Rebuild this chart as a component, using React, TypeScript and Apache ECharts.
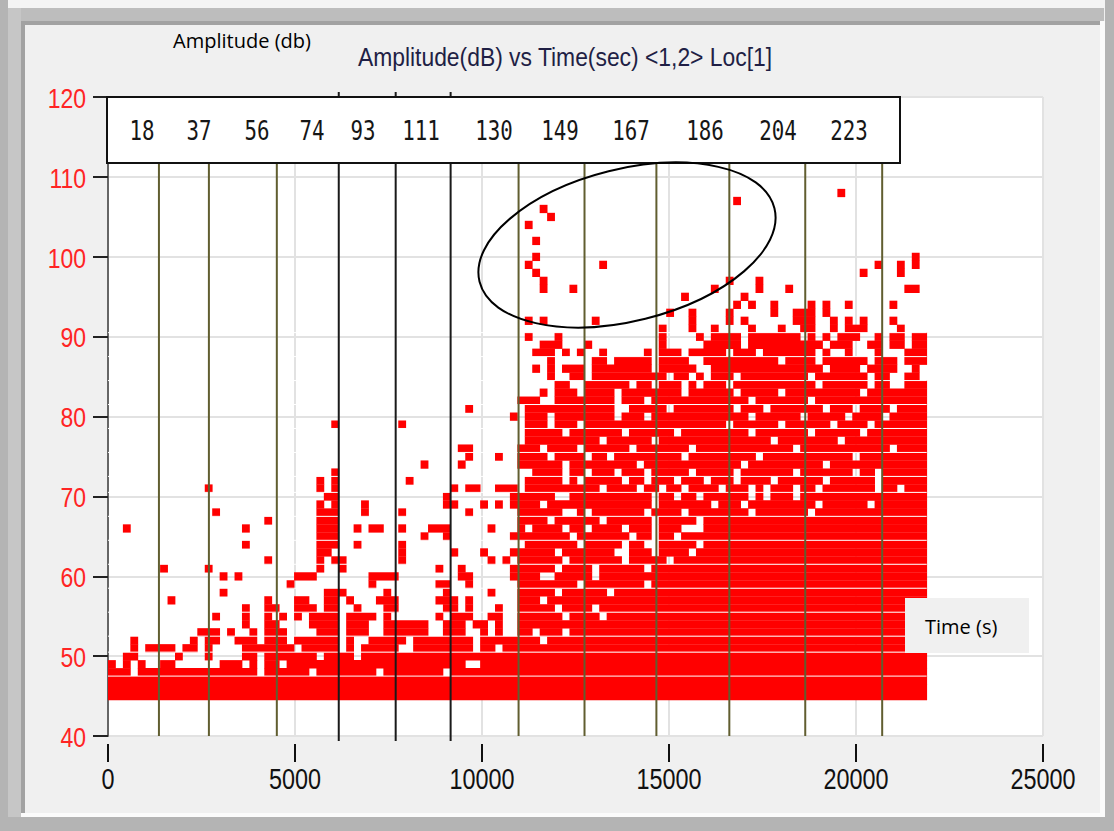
import { useEffect, useRef } from "react";
import * as echarts from "echarts";

// ---------- data ----------
const TITLE = "Amplitude(dB) vs Time(sec) <1,2> Loc[1]";
const Y_NOTE = "Amplitude (db)";
const X_NOTE = "Time (s)";

const X_MIN = 0;
const X_MAX = 25000;
const X_STEP = 5000;
const Y_MIN = 40;
const Y_MAX = 120;
const Y_STEP = 10;
const X_TICKS = [0, 5000, 10000, 15000, 20000, 25000];
const Y_TICKS = [40, 50, 60, 70, 80, 90, 100, 110, 120];

// width of one time cell (seconds) of the hit map
const BIN_SECONDS = 199;
const BIN_COUNT = 110;

// amplitude row (dB) -> occupied time cells (index ranges)
const AMPLITUDE_ROWS: [number, string][] = [
  [108, "98"],
  [107, "84"],
  [106, "58"],
  [105, "59"],
  [104, "56"],
  [102, "57"],
  [100, "57,108"],
  [99, "56,66,103,106,108"],
  [98, "57,101,106"],
  [97, "58,83,87"],
  [96, "58,62,81,87,91,107-108"],
  [95, "77,85"],
  [94, "84,86,89,94,96,99,105"],
  [93, "75,78,83,89,92-94,96"],
  [92, "56,58,65,78,83,85,92-94,97,99,101,105"],
  [91, "74,78,81,86,90,93-94,97,99-101,106"],
  [90, "56,60,74,79,81-84,86-92,94,96,98-100,103,105-106,108-109"],
  [89, "58-60,64,74,80-84,86-95,97-99,102-103,105-106,108-109"],
  [88, "57-59,61,63,66,72,74-76,78-82,84-86,88-94,96,99,103,107-109"],
  [87, "59,65-66,68-72,74-77,80-89,91-94,96-101,103-105,107-109"],
  [86, "57,59,61-63,65-72,74-78,81-95,97-100,102-105,108"],
  [85, "59,62-63,65-74,76-77,79,81-83,85-93,95-101,103-104,107-108"],
  [84, "60-61,64-69,71-72,74-76,78,80-82,84-94,96-101,103-104,107-109"],
  [83, "58,60-62,64-67,69-76,78-83,85-89,91-100,102-109"],
  [82, "55-57,60-67,69-71,73-85,87-93,95-109"],
  [81, "48,56-67,70-74,76-83,85-87,89-95,97-99,101-104,106-109"],
  [80, "54,56-58,60-67,69-71,73-85,87-92,94-98,100-103,105-109"],
  [79, "30,39,56-58,60-62,64-82,84-89,91-96,98-101,103-109"],
  [78, "56-60,62-68,70-75,77-85,87-93,95-100,102-109"],
  [77, "56-65,67-72,74-88,90-97,99-109"],
  [76, "47-48,55-57,59-62,64-69,71-77,79-91,93-104,106-109"],
  [75, "48,52,55-58,60-63,65-66,68-76,78-86,88-99,101-109"],
  [74, "42,47,55-60,62-70,72-84,86-95,97-109"],
  [73, "30,57-60,62-63,65-67,69-71,73-77,79-83,85-91,93-99,101-102,104-109"],
  [72, "28,30,40,56-60,62,64-68,70-71,73-75,77-79,81-83,85-88,90-95,97-102,104-109"],
  [71, "13,28,30,46,48-49,52-54,56-65,67-70,72-73,75-76,78-81,83-85,87,89-91,93-94,96-102,104-105,107-109"],
  [70, "29-30,45,54-59,62-72,74-75,77-78,80-85,87,89-91,93-109"],
  [69, "28,30,34,45-46,50,52,54-57,59-72,74-80,82-84,86-94,96-101,103-109"],
  [68, "14,28-30,34,39,48,55-60,63,65-71,73-76,78-85,87-93,95-109"],
  [67, "21,28-30,55-58,60-65,67-72,74-78,80-109"],
  [66, "2,18,28-30,33,35-36,39,43-45,51,55,57-60,62-63,65-68,70-72,74-76,80-109"],
  [65, "28-30,42,45,54-61,63-69,71-72,74-75,77-109"],
  [64, "18,28-30,33,39,56-62,64-68,70-71,74-78,80-109"],
  [63, "28-29,39,46,50,54-59,61-67,70-72,74-77,79-109"],
  [62, "21,28,30-31,39,51,53,55-60,62-68,70-74,76-109"],
  [61, "7,13,28,31,44,47,54-59,61-64,66-71,73-109"],
  [60, "15,17,25-27,35-38,47-48,54-57,60-64,66-109"],
  [59, "24,35,44-45,48,55-62,64-71,73-109"],
  [58, "15,29-31,37,45,51,55-59,61-66,68-109"],
  [57, "8,21,25-26,29-30,32,36-38,44-46,48,55-57,59-109"],
  [56, "18,21-22,25-27,29-30,33,37-38,45-46,48,52,55-59,61-64,66-109"],
  [55, "14,18,21,23,25,27-30,32-35,37,44,46-48,51-52,55-60,62-65,67-109"],
  [54, "18,21-22,27-30,32-34,37-42,45-47,49-50,52,55-109"],
  [53, "12-14,16,19,21-23,28-30,32-34,37-42,45-47,50,52,55-56,58-60,62-109"],
  [52, "3,11,13-14,17-19,21-23,25-30,32,35-39,41-48,50-57,59-109"],
  [51, "3,5-8,10-11,13,18-24,26-30,32,34-38,41-48,50-51,53-109"],
  [50, "2-3,9,13,18-19,21-27,29-32,34-109"],
  [49, "0,2,4,7-8,15-17,19,21-22,24-47,50-109"],
  [48, "0-2,4-19,21-26,28-35,37-44,46-109"],
  [47, "0-109"],
  [46, "0-109"],
  [45, "0-109"],
];

// white banding lines between amplitude rows
const SEPARATOR_LEVELS = [47.5, 50.5, 52.5, 55.5, 58.5, 61.5, 64.5, 67.5, 70.5, 72.5, 75.5, 78.5, 81.5, 84.5, 87.5, 90.5];

// vertical markers (time, s) and their labels
const MARKER_TIMES = [1362, 2698, 4514, 6170, 7692, 9161, 10978, 12741, 14663, 16613, 18643, 20700];
const MARKER_DARK = [false, false, false, true, true, true, false, false, false, false, false, false];
const MARKER_LABELS = ["18", "37", "56", "74", "93", "111", "130", "149", "167", "186", "204", "223"];

// ---------- layout ----------
const LABEL_X = [142, 199, 257, 312, 363, 421, 494, 560, 631, 705, 778, 849];
const SANS = "'Liberation Sans', Arial, sans-serif";

function buildSpans(): number[][] {
  const spans: number[][] = [];
  for (const [db, cols] of AMPLITUDE_ROWS) {
    for (const part of cols.split(",")) {
      const bits = part.split("-");
      const a = Number(bits[0]);
      const b = bits.length > 1 ? Number(bits[1]) : a;
      spans.push([a * BIN_SECONDS, (b + 1) * BIN_SECONDS, db]);
    }
  }
  return spans;
}

export default function App() {
  const ref = useRef<HTMLDivElement>(null);

  useEffect(() => {
    document.body.style.margin = "0";
    if (!ref.current) return;
    const chart = echarts.init(ref.current, undefined, { renderer: "svg" });
    const spans = buildSpans();
    const dataEnd = BIN_COUNT * BIN_SECONDS;

    chart.setOption({
      animation: false,
      backgroundColor: "#f0f0f0",
      grid: {
        left: 108,
        top: 97,
        width: 935,
        height: 639,
        show: true,
        backgroundColor: "#ffffff",
        borderWidth: 0,
      },
      xAxis: {
        type: "value",
        min: X_MIN,
        max: X_MAX,
        interval: X_STEP,
        offset: 8,
        axisLine: { show: false },
        axisTick: { show: true, length: 18, lineStyle: { color: "#111", width: 2 } },
        axisLabel: { show: false },
        splitLine: { show: true, lineStyle: { color: "#e2e2e2", width: 2 } },
      },
      yAxis: {
        type: "value",
        min: Y_MIN,
        max: Y_MAX,
        interval: Y_STEP,
        axisLine: { show: true, lineStyle: { color: "#666", width: 2 } },
        axisTick: { show: true, length: 15, lineStyle: { color: "#222", width: 2 } },
        axisLabel: { show: false },
        splitLine: { show: true, lineStyle: { color: "#e2e2e2", width: 2 } },
      },
      series: [
        {
          type: "custom",
          name: "hits",
          z: 2,
          encode: { x: [0, 1], y: 2 },
          data: spans,
          renderItem: (_p: any, api: any) => {
            const a = api.coord([api.value(0), api.value(2) + 0.5]);
            const b = api.coord([api.value(1), api.value(2) - 0.5]);
            return {
              type: "rect",
              shape: { x: a[0], y: a[1], width: b[0] - a[0] + 0.4, height: b[1] - a[1] + 0.3 },
              style: { fill: "#ff0000" },
            };
          },
        },
        {
          type: "custom",
          name: "bands",
          z: 3,
          silent: true,
          encode: { x: [0, 1], y: 2 },
          data: SEPARATOR_LEVELS.map((l) => [0, dataEnd, l]),
          renderItem: (_p: any, api: any) => {
            const a = api.coord([api.value(0), api.value(2)]);
            const b = api.coord([api.value(1), api.value(2)]);
            return {
              type: "line",
              shape: { x1: a[0], y1: a[1], x2: b[0], y2: b[1] },
              style: { stroke: "#ffffff", lineWidth: 1 },
            };
          },
        },
        {
          type: "custom",
          name: "markers",
          z: 4,
          silent: true,
          encode: { x: 0, y: [1, 2] },
          data: MARKER_TIMES.map((t, i) => [t, Y_MIN, Y_MAX, MARKER_DARK[i] ? 1 : 0]),
          renderItem: (_p: any, api: any) => {
            const dark = api.value(3) === 1;
            const top = api.coord([api.value(0), api.value(2)]);
            const bot = api.coord([api.value(0), api.value(1)]);
            const ext = dark ? 5 : 0;
            return {
              type: "line",
              shape: { x1: top[0], y1: top[1] - ext, x2: bot[0], y2: bot[1] + ext },
              style: { stroke: dark ? "#1a1a1a" : "#615e30", lineWidth: 2 },
            };
          },
        },
      ],
    });

    // tick labels placed through the library's own scales
    const xLabels = X_TICKS.map((v) => {
      const p = chart.convertToPixel({ gridIndex: 0 }, [v, Y_MIN]) as number[];
      return {
        type: "text",
        x: p[0],
        y: 779,
        scaleX: 0.78,
        style: {
          text: String(v),
          fontSize: 30,
          fontFamily: SANS,
          fill: "#111",
          textAlign: "center",
          textVerticalAlign: "middle",
        },
      };
    });
    const yLabels = Y_TICKS.map((v) => {
      const p = chart.convertToPixel({ gridIndex: 0 }, [X_MIN, v]) as number[];
      return {
        type: "text",
        x: 86,
        y: p[1] + 1,
        scaleX: 0.82,
        style: {
          text: String(v),
          fontSize: 28,
          fontFamily: SANS,
          fill: "#ff2424",
          textAlign: "right",
          textVerticalAlign: "middle",
        },
      };
    });

    const frame: any[] = [
      { type: "rect", shape: { x: 0, y: 0, width: 1114, height: 8 }, style: { fill: "#f4f4f4" }, silent: true },
      { type: "rect", shape: { x: 0, y: 0, width: 8, height: 831 }, style: { fill: "#b4b4b4" }, silent: true },
      { type: "rect", shape: { x: 8, y: 8, width: 1096, height: 13 }, style: { fill: "#bdbdbd" }, silent: true },
      { type: "rect", shape: { x: 8, y: 8, width: 13, height: 809 }, style: { fill: "#c6c6c6" }, silent: true },
      { type: "rect", shape: { x: 21, y: 21, width: 1080, height: 4 }, style: { fill: "#a2a2a2" }, silent: true },
      { type: "rect", shape: { x: 21, y: 21, width: 4, height: 792 }, style: { fill: "#a2a2a2" }, silent: true },
      { type: "rect", shape: { x: 1100, y: 21, width: 5, height: 796 }, style: { fill: "#fbfbfb" }, silent: true },
      { type: "rect", shape: { x: 21, y: 813, width: 1084, height: 4 }, style: { fill: "#fbfbfb" }, silent: true },
      { type: "rect", shape: { x: 1105, y: 0, width: 9, height: 831 }, style: { fill: "#b4b4b4" }, silent: true },
      { type: "rect", shape: { x: 0, y: 817, width: 1114, height: 14 }, style: { fill: "#b4b4b4" }, silent: true },
    ];

    const labelTexts = MARKER_LABELS.map((t, i) => ({
      type: "text",
      z: 21,
      x: LABEL_X[i],
      y: 131,
      scaleX: 0.8,
      style: {
        text: t,
        fontSize: 26,
        fontFamily: "'DejaVu Sans Mono', monospace",
        fill: "#161616",
        textAlign: "center",
        textVerticalAlign: "middle",
      },
    }));

    chart.setOption({
      graphic: {
        elements: [
          ...frame,
          ...xLabels,
          ...yLabels,
          {
            type: "text",
            x: 565,
            y: 57,
            scaleX: 0.88,
            style: {
              text: TITLE,
              fontSize: 26,
              fontFamily: SANS,
              fill: "#1f1f45",
              textAlign: "center",
              textVerticalAlign: "middle",
            },
          },
          {
            type: "text",
            x: 242,
            y: 40,
            style: {
              text: Y_NOTE,
              fontSize: 20,
              fontFamily: "'Open Sans', sans-serif",
              fill: "#000",
              textAlign: "center",
              textVerticalAlign: "middle",
            },
          },
          {
            type: "rect",
            z: 20,
            shape: { x: 107, y: 97, width: 793, height: 66 },
            style: { fill: "#ffffff", stroke: "#111", lineWidth: 2 },
          },
          ...labelTexts,
          {
            type: "ellipse",
            z: 20,
            x: 627,
            y: 245,
            rotation: (14 * Math.PI) / 180,
            shape: { cx: 0, cy: 0, rx: 152, ry: 76 },
            style: { fill: "none", stroke: "#000", lineWidth: 2 },
          },
          {
            type: "rect",
            z: 20,
            shape: { x: 905, y: 598, width: 124, height: 55 },
            style: { fill: "#f0f0f0" },
          },
          {
            type: "text",
            z: 21,
            x: 925,
            y: 626,
            style: {
              text: X_NOTE,
              fontSize: 20,
              fontFamily: "'Open Sans', sans-serif",
              fill: "#000",
              textVerticalAlign: "middle",
            },
          },
        ],
      },
    });

    return () => chart.dispose();
  }, []);

  return <div ref={ref} style={{ width: 1114, height: 831 }} />;
}
